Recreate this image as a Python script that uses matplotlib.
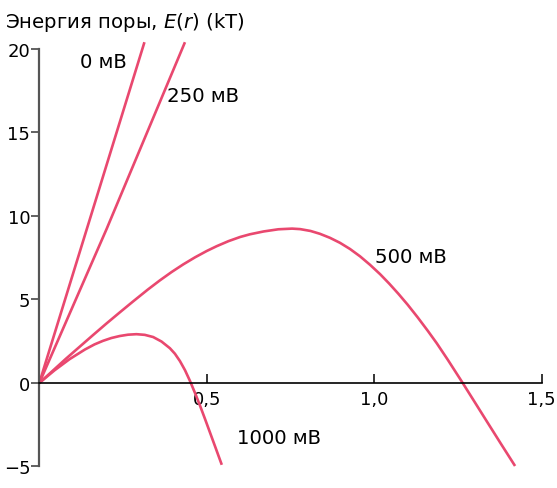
import matplotlib
matplotlib.use("Agg")
import matplotlib.pyplot as plt

# --- data ---
r_0mv = [0.0, 0.314]
e_0mv = [0.0, 20.4]

r_250mv = [0.0, 0.201, 0.435]
e_250mv = [0.0, 9.22, 20.4]

r_500mv = [0.0, 0.04, 0.08, 0.12, 0.16, 0.2, 0.24, 0.28, 0.324, 0.36, 0.395, 0.43,
           0.465, 0.5, 0.53, 0.565, 0.6, 0.629, 0.67, 0.714, 0.755, 0.779, 0.81, 0.838,
           0.868, 0.898, 0.928, 0.958, 0.988, 1.018, 1.045, 1.072, 1.10, 1.13, 1.16,
           1.187, 1.22, 1.262, 1.30, 1.336, 1.38, 1.421]
e_500mv = [0.0, 0.73, 1.46, 2.16, 2.86, 3.55, 4.22, 4.88, 5.59, 6.14, 6.64, 7.10,
           7.52, 7.90, 8.19, 8.49, 8.74, 8.90, 9.07, 9.20, 9.24, 9.21, 9.10, 8.93,
           8.69, 8.39, 8.02, 7.58, 7.07, 6.51, 5.95, 5.35, 4.69, 3.93, 3.13,
           2.38, 1.39, 0.08, -1.13, -2.28, -3.68, -4.97]

r_1000mv = [0.0, 0.045, 0.09, 0.136, 0.165, 0.19, 0.215, 0.24, 0.265, 0.29, 0.315,
            0.34, 0.365, 0.39, 0.405, 0.42, 0.435, 0.45, 0.465, 0.48, 0.495, 0.51,
            0.525, 0.545]
e_1000mv = [0.0, 0.75, 1.42, 2.0, 2.31, 2.52, 2.69, 2.81, 2.89, 2.92, 2.88,
            2.75, 2.48, 2.08, 1.75, 1.31, 0.77, 0.12, -0.60, -1.36, -2.16, -2.98,
            -3.80, -4.90]

curve_labels = ["0 мВ", "250 мВ", "500 мВ", "1000 мВ"]
x_ticks = [0.5, 1.0, 1.5]
x_ticklabels = ["0,5", "1,0", "1,5"]
y_ticks = [-5, 0, 5, 10, 15, 20]
y_ticklabels = ["\u22125", "0", "5", "10", "15", "20"]

LINE_COLOR = "#e9486f"
FS_TICK = 13
FS_LABEL = 14.2

plt.rcParams["font.family"] = ["DejaVu Sans"]
plt.rcParams["mathtext.fontset"] = "dejavusans"

fig = plt.figure(figsize=(5.57, 4.89), dpi=100)
ax = fig.add_axes([0.0706, 0.044, 0.9016, 0.854])

for xs, ys in [(r_0mv, e_0mv), (r_250mv, e_250mv), (r_500mv, e_500mv), (r_1000mv, e_1000mv)]:
    ax.plot(xs, ys, color=LINE_COLOR, lw=1.9, clip_on=False,
            solid_capstyle="butt", solid_joinstyle="round")

ax.set_xlim(0, 1.5)
ax.set_ylim(-5, 20)

# axes through the origin
ax.spines["top"].set_visible(False)
ax.spines["right"].set_visible(False)
ax.spines["bottom"].set_position(("data", 0))
ax.spines["bottom"].set_color("black")
ax.spines["bottom"].set_linewidth(1.2)
ax.spines["left"].set_color("#555555")
ax.spines["left"].set_linewidth(1.6)

ax.set_xticks(x_ticks)
ax.set_xticklabels(x_ticklabels, fontsize=FS_TICK)
ax.set_yticks(y_ticks)
ax.set_yticklabels(y_ticklabels, fontsize=FS_TICK)
ax.tick_params(axis="x", direction="in", length=6.5, width=1.1, pad=5, colors="black")
ax.tick_params(axis="y", direction="out", length=6, width=1.3, pad=0.5, color="#555555",
               labelcolor="black")

# curve labels
ax.text(0.1216, 18.9, curve_labels[0], fontsize=FS_LABEL, ha="left", va="baseline")
ax.text(0.381, 16.9, curve_labels[1], fontsize=FS_LABEL, ha="left", va="baseline")
ax.text(1.003, 7.26, curve_labels[2], fontsize=FS_LABEL, ha="left", va="baseline")
ax.text(0.591, -3.6, curve_labels[3], fontsize=FS_LABEL, ha="left", va="baseline")

fig.text(5 / 557, 1 - 28.5 / 489, "Энергия поры, $E$($r$) (kT)", fontsize=FS_LABEL,
         ha="left", va="baseline")

fig.savefig("out.png", dpi=100)
